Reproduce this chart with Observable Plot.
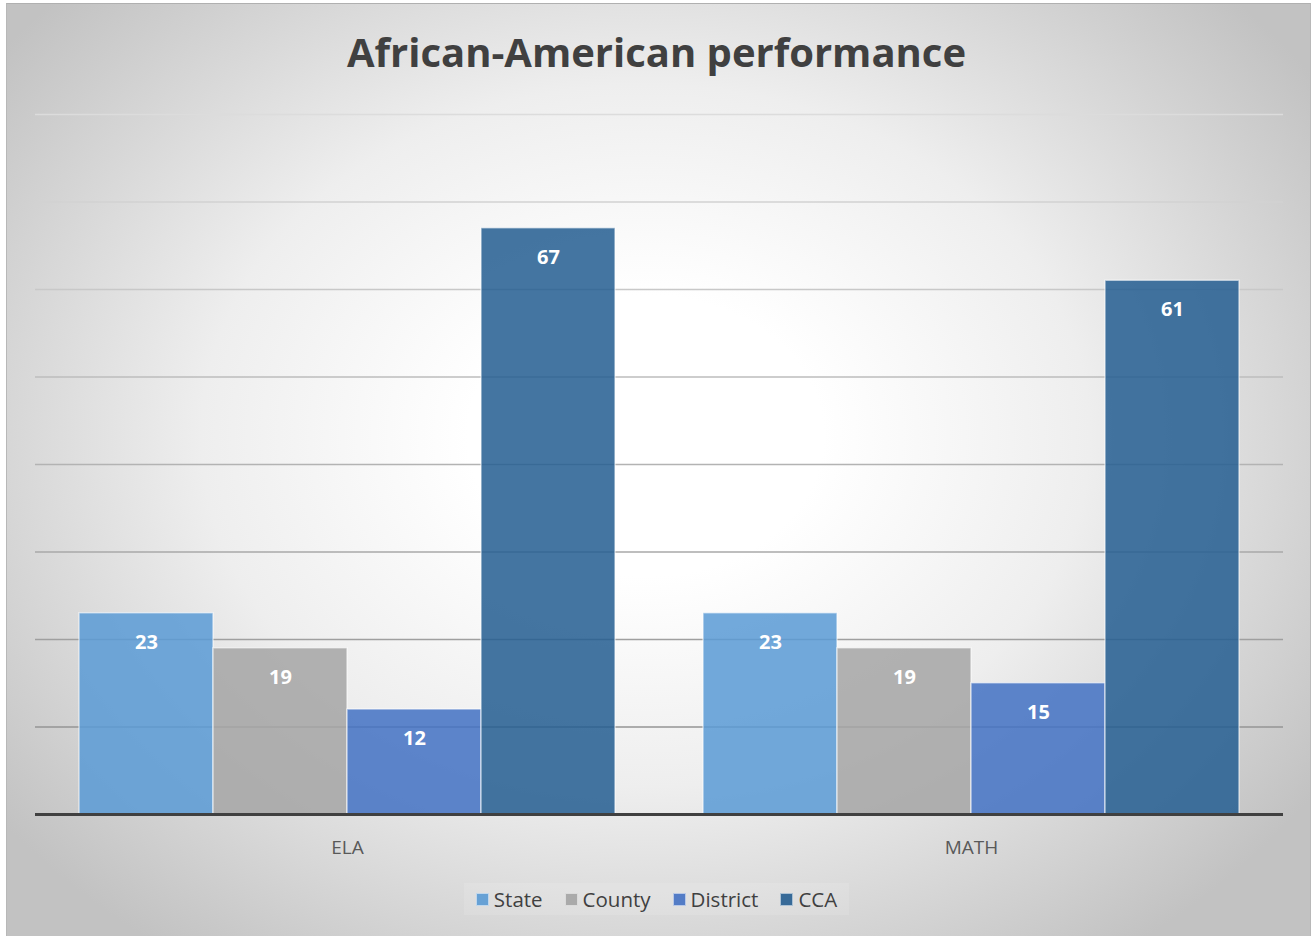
<!DOCTYPE html>
<html>
<head>
<meta charset="utf-8">
<script src="https://cdn.jsdelivr.net/npm/d3@7"></script>
<script src="https://cdn.jsdelivr.net/npm/@observablehq/plot@0.6"></script>
<style>
  html, body { margin: 0; padding: 0; background: #ffffff; }
  body { width: 1313px; height: 936px; position: relative; overflow: hidden; font-family: "Open Sans", sans-serif; }
  #frame {
    position: absolute; left: 6px; top: 3px; width: 1305px; height: 940px;
    box-sizing: border-box;
    border-left: 1px solid #b8b8b8; border-top: 1px solid #b0b0b0; border-right: 1px solid #b8b8b8;
    background: radial-gradient(ellipse 62% 68% at 49% 46%, #ffffff 0%, #ffffff 22%, #eeeeee 55%, #c2c2c2 100%);
  }
  #title {
    position: absolute; left: 0; top: 26px; width: 1313px; text-align: center;
    font-weight: 700; font-size: 40px; line-height: 52px; color: #404040;
  }
  #chart { position: absolute; left: 0; top: 100px; }
  #legend {
    position: absolute; left: 0; top: 883px; width: 1313px;
    display: flex; justify-content: center;
  }
  #legend .box {
    display: flex; gap: 22px; padding: 2px 12px;
    font-size: 20.5px; line-height: 28px; color: #404040;
    background: rgba(255, 255, 255, 0.12);
  }
  #legend .item { display: flex; align-items: center; gap: 5px; }
  #legend .swatch { width: 13px; height: 13px; box-sizing: border-box; border: 1px solid rgba(255,255,255,0.6); }
</style>
</head>
<body>
<div id="frame"></div>
<div id="title">African-American performance</div>
<div id="chart"></div>
<div id="legend"><div class="box"></div></div>
<script>
// Subjects along the bottom, and the four comparison groups within each subject
const categories = ["ELA", "MATH"];
const series = ["State", "County", "District", "CCA"];

// Percent values per group, in the order of `series`
const elaValues = [23, 19, 12, 67];
const mathValues = [23, 19, 15, 61];

// Horizontal gridline values (no value axis is drawn)
const gridTicks = [10, 20, 30, 40, 50, 60, 70, 80];

const seriesColors = ["#5B9BD5", "#A5A5A5", "#4472C4", "#255E91"];

const valuesByCategory = {ELA: elaValues, MATH: mathValues};
const rows = categories.flatMap((category) =>
  series.map((s, j) => ({category, series: s, value: valuesByCategory[category][j]}))
);

// Gridlines fade from dark near the baseline to light at the top
const gridShade = d3.interpolateRgb("#8a8a8a", "#dcdcdc");

const chart = Plot.plot({
  width: 1313,
  height: 770,
  marginLeft: 37,
  marginRight: 32,
  marginTop: 14,
  marginBottom: 56,
  style: {background: "transparent", fontFamily: "Open Sans, sans-serif", fontSize: "19px", color: "#595959", overflow: "visible"},
  fx: {domain: categories, paddingInner: 0.1413, paddingOuter: 0.066, axis: "bottom", tickSize: 0, tickPadding: 26, label: null},
  x: {domain: series, padding: 0, axis: null},
  y: {domain: [0, 80], axis: null},
  color: {domain: series, range: seriesColors},
  marks: [
    Plot.ruleY(gridTicks, {stroke: (d) => gridShade(d / 80), strokeWidth: 1.5, insetLeft: -44, insetRight: -44}),
    Plot.barY(rows, {
      fx: "category", x: "series", y: "value", fill: "series",
      fillOpacity: 0.86, stroke: "#ffffff", strokeOpacity: 0.55, strokeWidth: 1.5
    }),
    Plot.text(rows, {
      fx: "category", x: "series", y: "value", text: (d) => String(d.value),
      dy: 29, fill: "#ffffff", fontWeight: "bold", fontSize: 20
    }),
    Plot.ruleY([0], {stroke: "#404040", strokeWidth: 3, insetLeft: -44, insetRight: -44})
  ]
});
document.getElementById("chart").appendChild(chart);

// Legend below the chart
const legend = d3.select("#legend .box");
series.forEach((s, i) => {
  const item = legend.append("div").attr("class", "item");
  item.append("div").attr("class", "swatch").style("background", seriesColors[i]).style("opacity", 0.9);
  item.append("span").text(s);
});
</script>
</body>
</html>
